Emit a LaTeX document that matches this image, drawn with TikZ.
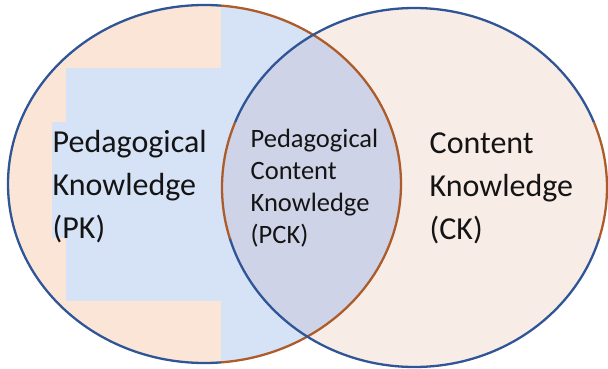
\documentclass[tikz,border=0pt]{standalone}
\usepackage{fontspec}
\setmainfont{Carlito}
\definecolor{peach}{RGB}{251,229,214}
\definecolor{lblue}{RGB}{214,226,246}
\definecolor{inter}{RGB}{206,211,231}
\definecolor{rfill}{RGB}{248,236,231}
\definecolor{oblue}{RGB}{47,85,151}
\definecolor{obrown}{RGB}{172,92,42}
\tikzset{
  outline/.style={line width=2.3pt},
  lbl/.style={inner sep=0pt, anchor=north west, align=left, text=black!92},
  bigtxt/.style={font=\fontsize{32}{43}\selectfont},
  smalltxt/.style={font=\fontsize{26.5}{32}\selectfont},
}
\begin{document}
\begin{tikzpicture}[x=1pt,y=-1pt]
\useasboundingbox (0,0) rectangle (608,369);
\def\LC{(204.5,184) ellipse [x radius=196.5pt, y radius=179pt]}
\def\RC{(414.5,187.5) ellipse [x radius=192.5pt, y radius=179.5pt]}
% right circle fill
\fill[rfill] \RC;
% left circle fills
\begin{scope}
  \clip \LC;
  \fill[peach] (0,0) rectangle (221,369);
  \fill[lblue] (221,0) rectangle (420,369);
  \fill[lblue] (66,68) rectangle (221,301);
  \fill[lblue] (52,122) rectangle (240,238);
  \fill[inter] \RC;
\end{scope}
% outlines of the left circle
\begin{scope}
  \clip (0,0) rectangle (221,369);
  \draw[outline, oblue] \LC;
\end{scope}
\begin{scope}
  \clip (221,0) rectangle (608,369);
  \draw[outline, obrown] \LC;
\end{scope}
% outlines of the right circle
\begin{scope}
  \clip (0,0) rectangle (608,122) (0,238) rectangle (608,369);
  \draw[outline, oblue] \RC;
\end{scope}
\begin{scope}
  \clip (0,122) rectangle (608,238);
  \draw[outline, obrown] \RC;
\end{scope}
% labels
\node[lbl, bigtxt] (pk) at (52.5,130) {Pedagogical\\Knowledge\\(PK)};
\node[lbl, smalltxt] (pck) at (250.5,129) {Pedagogical\\Content\\Knowledge\\(PCK)};
\node[lbl, bigtxt] (ck) at (429.5,133) {Content\\Knowledge\\(CK)};
\end{tikzpicture}
\end{document}
